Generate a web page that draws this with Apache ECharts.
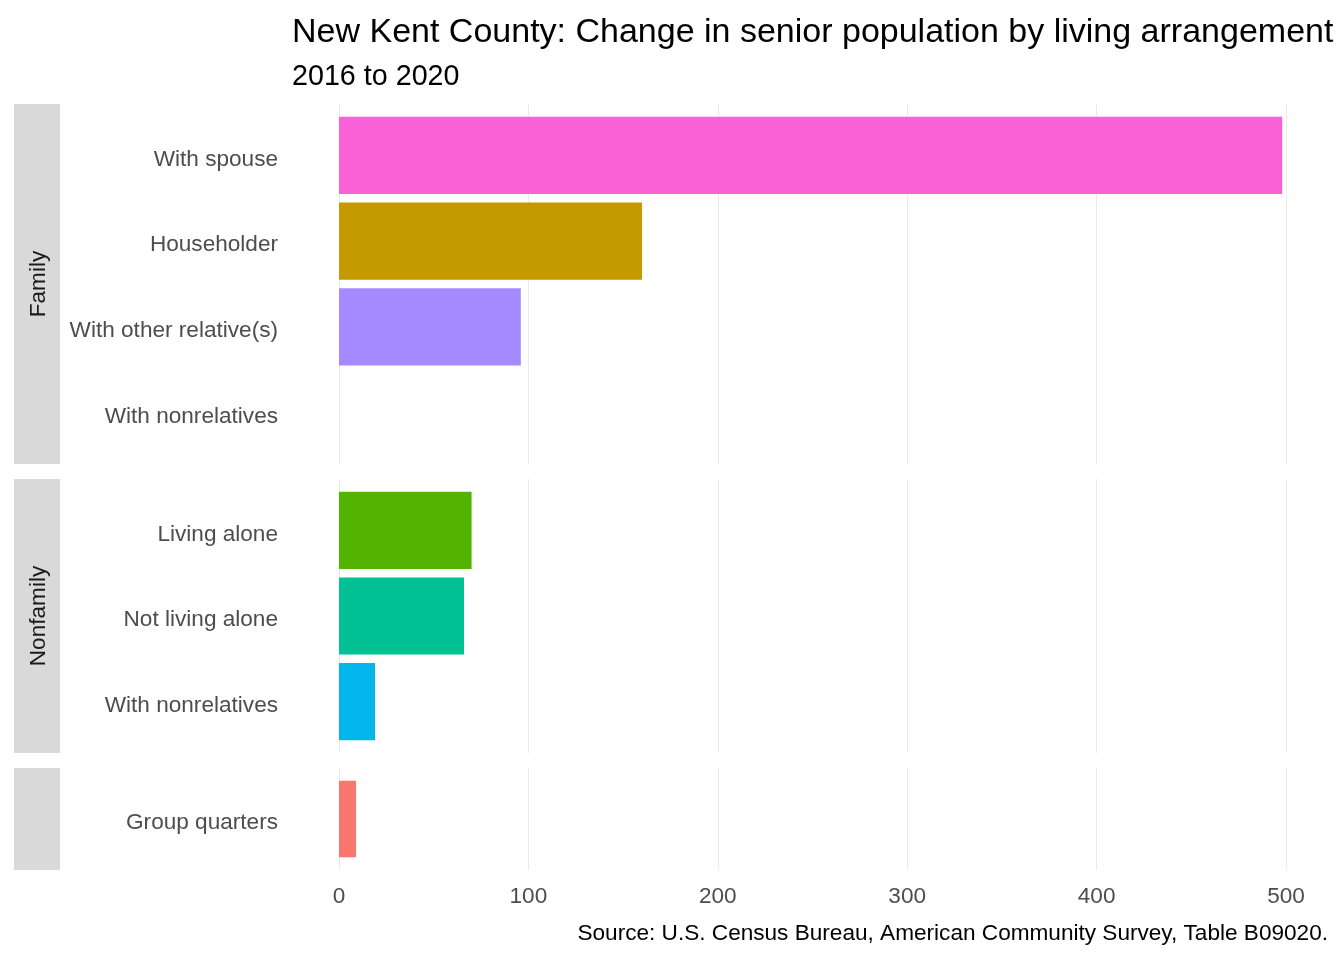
<!DOCTYPE html>
<html><head><meta charset="utf-8">
<script src="https://cdn.jsdelivr.net/npm/echarts@6/dist/echarts.min.js"></script>
<style>html,body{margin:0;padding:0;background:#fff}#c{width:1344px;height:960px}</style>
</head><body><div id="c"></div>
<script>
// ---- data ----
const familyCats = ['With spouse', 'Householder', 'With other relative(s)', 'With nonrelatives'];
const familyVals = [498, 160, 96, 0];
const nonfamilyCats = ['Living alone', 'Not living alone', 'With nonrelatives'];
const nonfamilyVals = [70, 66, 19];
const groupCats = ['Group quarters'];
const groupVals = [9];
const panelNames = ['Family', 'Nonfamily', ''];
const xTickMin = 0, xTickMax = 500, xTickStep = 100;
const titleText = 'New Kent County: Change in senior population by living arrangement';
const subtitleText = '2016 to 2020';
const captionText = 'Source: U.S. Census Bureau, American Community Survey, Table B09020.';

// ---- styles ----
const colorMap = {
  'Group quarters': '#F8766D',
  'Householder': '#C49A00',
  'Living alone': '#53B400',
  'Not living alone': '#00C094',
  'With nonrelatives': '#00B6EB',
  'With other relative(s)': '#A58AFF',
  'With spouse': '#FB61D7'
};
const FONT = '"Liberation Sans", Arial, sans-serif';
const FS = 22.6;
const panelLeft = 339, panelRight = 1344 - 1286;
const panelsLayout = [
  { top: 104, height: 360 },
  { top: 479, height: 274 },
  { top: 768, height: 102 }
];
const panelData = [
  { cats: familyCats, vals: familyVals },
  { cats: nonfamilyCats, vals: nonfamilyVals },
  { cats: groupCats, vals: groupVals }
];

const grid = [], xAxis = [], yAxis = [], series = [], graphic = [];
// background grids (panel area with grid lines)
panelsLayout.forEach((p, i) => {
  grid.push({ left: panelLeft, right: panelRight, top: p.top, height: p.height });
  xAxis.push({
    type: 'value', gridIndex: i, min: xTickMin, max: xTickMax, interval: xTickStep,
    axisLine: { show: false }, axisTick: { show: false },
    splitLine: { show: true, lineStyle: { color: '#EBEBEB', width: 1 } },
    axisLabel: { show: i === 2, color: '#4D4D4D', fontSize: FS, fontFamily: FONT, margin: 15 }
  });
  yAxis.push({ type: 'value', gridIndex: i, show: false, min: 0, max: 1 });
});
// bar grids
panelsLayout.forEach((p, i) => {
  const n = panelData[i].cats.length;
  const step = p.height / (n + 0.2);
  const gi = 3 + i;
  grid.push({ left: panelLeft, right: panelRight, top: p.top + 0.1 * step, height: n * step });
  xAxis.push({
    type: 'value', gridIndex: gi, min: xTickMin, max: xTickMax, interval: xTickStep,
    show: false, splitLine: { show: false }
  });
  yAxis.push({
    type: 'category', gridIndex: gi, data: panelData[i].cats, inverse: true,
    axisLine: { show: false }, axisTick: { show: false }, splitLine: { show: false },
    axisLabel: {
      margin: 61,
      formatter: v => '{a|' + v + '}',
      rich: { a: { color: '#4D4D4D', fontSize: FS, fontFamily: FONT, padding: [8, 0, 0, 0] } }
    }
  });
  series.push({
    type: 'bar', xAxisIndex: gi, yAxisIndex: gi, barCategoryGap: '10%',
    data: panelData[i].vals.map((v, k) => ({ value: v, itemStyle: { color: colorMap[panelData[i].cats[k]] } })),
    silent: true
  });
  // strip
  graphic.push({
    type: 'rect', shape: { x: 14, y: p.top, width: 46, height: p.height },
    style: { fill: '#D9D9D9' }, z: 0
  });
  if (panelNames[i]) {
    graphic.push({
      type: 'text', x: 39, y: p.top + p.height / 2, rotation: Math.PI / 2,
      style: { text: panelNames[i], fill: '#1A1A1A', font: FS + 'px ' + FONT, align: 'center', verticalAlign: 'middle' }
    });
  }
});
graphic.push({
  type: 'text', x: 1328, y: 934,
  style: { text: captionText, fill: '#000', font: FS + 'px ' + FONT, align: 'right', verticalAlign: 'middle' }
});

const chart = echarts.init(document.getElementById('c'), null, { renderer: 'canvas' });
chart.setOption({
  backgroundColor: '#fff',
  animation: false,
  title: [
    { text: titleText, left: 287, top: 11, textStyle: { color: '#000', fontSize: 34, fontWeight: 'normal', fontFamily: FONT } },
    { text: subtitleText, left: 287, top: 58, textStyle: { color: '#000', fontSize: 28.7, fontWeight: 'normal', fontFamily: FONT } }
  ],
  grid, xAxis, yAxis, series, graphic
});
</script>
</body></html>
